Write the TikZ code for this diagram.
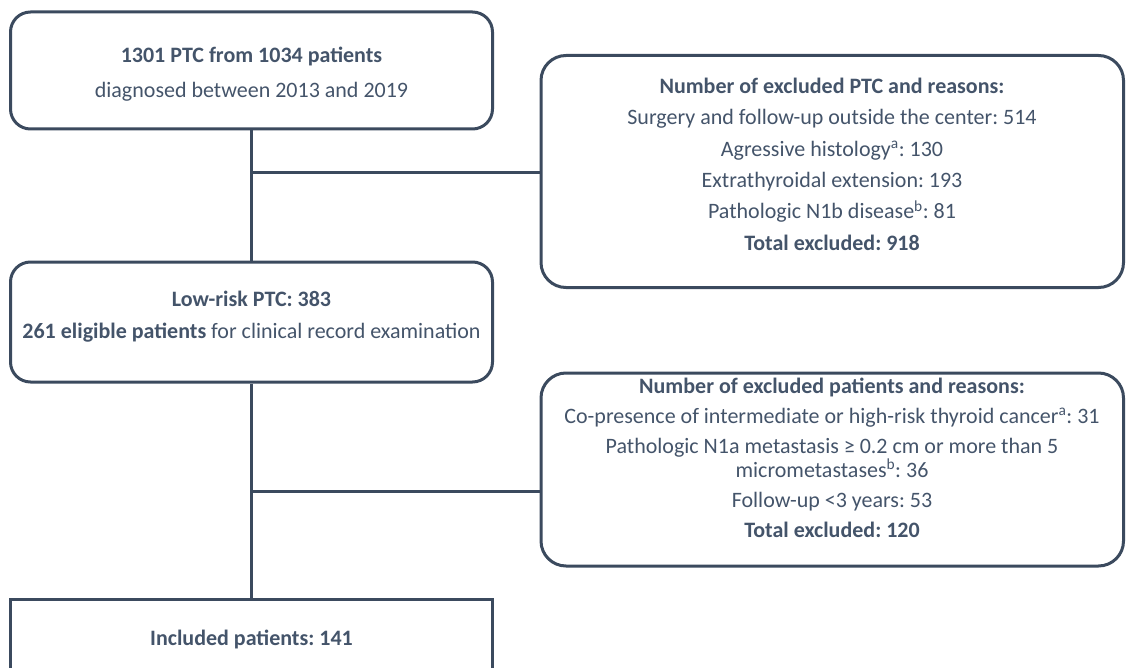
\documentclass[tikz,border=0pt]{standalone}
\usepackage{fontspec}
\setmainfont{Carlito}
\definecolor{txtc}{HTML}{44546A}
\definecolor{linec}{HTML}{3B4A5E}
\frenchspacing
\begin{document}
\begin{tikzpicture}[x=1pt,y=1pt,
  lbox/.style={draw=linec, line width=3pt, rounded corners=20pt, inner sep=0pt},
  rbox/.style={draw=linec, line width=3pt, rounded corners=25pt, inner sep=0pt},
  sbox/.style={draw=linec, line width=3pt, inner sep=0pt},
  txt/.style={text=txtc, inner sep=0pt, anchor=mid, font=\fontsize{22}{26.8}\selectfont},
  conn/.style={draw=linec, line width=3pt}]
\useasboundingbox (0,0) rectangle (1126,-668);
\clip (0,0) rectangle (1126,-668);
% boxes
\node[lbox, minimum width=482, minimum height=117] (b1) at (251.5,-70.5) {};
\node[rbox, minimum width=582.5, minimum height=232] (e1) at (832.25,-171.5) {};
\node[lbox, minimum width=482, minimum height=120] (b2) at (251.5,-322) {};
\node[rbox, minimum width=582.5, minimum height=193] (e2) at (832.25,-469.5) {};
\node[sbox, minimum width=482, minimum height=130] (b3) at (251.5,-664) {};
% texts box 1
\node[txt] (t11) at (251.5,-60) {\textbf{1301 PTC from 1034 patients}};
\node[txt] (t12) at (251.5,-95) {diagnosed between 2013 and 2019};
% texts excluded 1
\node[txt] (t21) at (832,-91) {\textbf{Number of excluded PTC and reasons:}};
\node[txt] (t22) at (832,-122.4) {Surgery and follow-up outside the center: 514};
\node[txt] (t23) at (832,-153.8) {Agressive histology\textsuperscript{a}: 130};
\node[txt] (t24) at (832,-185.2) {Extrathyroidal extension: 193};
\node[txt] (t25) at (832,-216.6) {Pathologic N1b disease\textsuperscript{b}: 81};
\node[txt] (t26) at (832,-248) {\textbf{Total excluded: 918}};
% texts box 2
\node[txt] (t31) at (251.5,-304) {\textbf{Low-risk PTC: 383}};
\node[txt] (t32) at (251.5,-336) {\textbf{261 eligible patients} for clinical record examination};
% texts excluded 2
\node[txt] (t41) at (832,-391) {\textbf{Number of excluded patients and reasons:}};
\node[txt] (t42) at (832,-421) {Co-presence of intermediate or high-risk thyroid cancer\textsuperscript{a}: 31};
\node[txt] (t43) at (832,-451) {Pathologic N1a metastasis ≥ 0.2 cm or more than 5};
\node[txt] (t44) at (832,-475) {micrometastases\textsuperscript{b}: 36};
\node[txt] (t45) at (832,-505) {Follow-up <3 years: 53};
\node[txt] (t46) at (832,-535) {\textbf{Total excluded: 120}};
% text box 3
\node[txt] (t51) at (251.5,-643) {\textbf{Included patients: 141}};
% connectors
\coordinate (j1) at (b1.south |- 0,-173);
\coordinate (j2) at (b2.south |- 0,-491);
\draw[conn] (b1.south) -- (b2.north);
\draw[conn] (j1) -- (j1 -| e1.west);
\draw[conn] (b2.south) -- (b3.north);
\draw[conn] (j2) -- (j2 -| e2.west);
\end{tikzpicture}
\end{document}
